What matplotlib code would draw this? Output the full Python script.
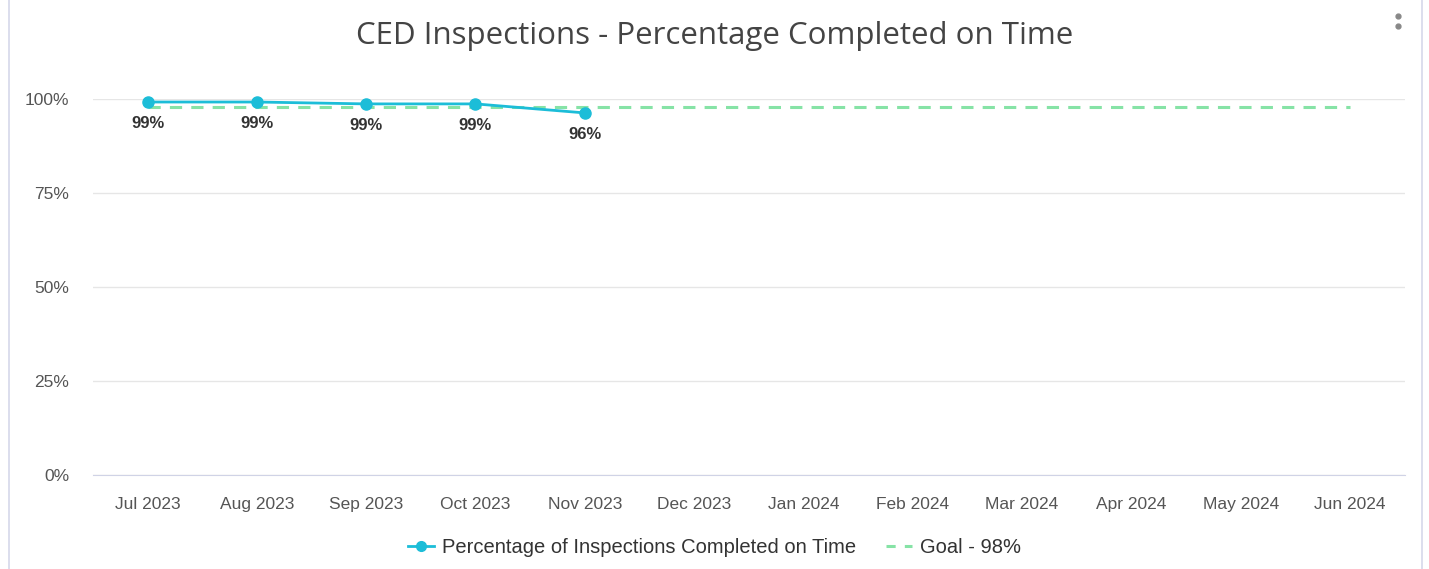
import matplotlib.pyplot as plt
from matplotlib.lines import Line2D

months = ['Jul 2023', 'Aug 2023', 'Sep 2023', 'Oct 2023', 'Nov 2023', 'Dec 2023',
          'Jan 2024', 'Feb 2024', 'Mar 2024', 'Apr 2024', 'May 2024', 'Jun 2024']
pct_on_time = [99.2, 99.2, 98.7, 98.7, 96.3]
pct_labels = ['99%', '99%', '99%', '99%', '96%']
goal = [98] * 12
yticks = [0, 25, 50, 75, 100]

line_col = '#1cbdd8'
goal_col = '#86e3a6'

fig = plt.figure(figsize=(14.29, 5.69), dpi=100)
ax = fig.add_axes([0.065, 0.165, 0.918, 0.661])

x = list(range(len(months)))
ax.plot(x, goal, color=goal_col, lw=2.2, ls=(0, (4, 3)), zorder=2)
ax.plot(x[:len(pct_on_time)], pct_on_time, color=line_col, lw=2, marker='o',
        ms=8, zorder=3, clip_on=False)
for i, (v, lab) in enumerate(zip(pct_on_time, pct_labels)):
    ax.annotate(lab, (i, v), xytext=(0, -15.5), textcoords='offset points',
                ha='center', va='center', fontsize=12, color='#333333',
                family='Liberation Sans', weight='bold')

ax.set_xlim(-0.5, 11.5)
ax.set_ylim(0, 100)
ax.set_xticks(x)
ax.set_xticklabels(months, family='Liberation Sans', fontsize=12.5, color='#555555')
ax.set_yticks(yticks)
ax.set_yticklabels([f'{t}%' for t in yticks], family='Liberation Sans',
                   fontsize=12.5, color='#555555')
ax.tick_params(length=0)
ax.tick_params(axis='y', pad=17)
ax.tick_params(axis='x', pad=15.5)
ax.grid(axis='y', color='#e6e6e6', lw=1)
for s in ['top', 'right', 'left']:
    ax.spines[s].set_visible(False)
ax.spines['bottom'].set_color('#d0d3e6')
ax.set_axisbelow(True)

fig.text(0.5, 0.936, 'CED Inspections - Percentage Completed on Time', ha='center',
         va='center', fontsize=22.5, color='#444444', family='Open Sans')

handles = [Line2D([], [], color=line_col, lw=2, marker='o', ms=7),
           Line2D([], [], color=goal_col, lw=2.2, ls=(0, (3, 3)))]
fig.legend(handles, ['Percentage of Inspections Completed on Time', 'Goal - 98%'],
           loc='center', bbox_to_anchor=(0.5, 0.037), ncol=2, frameon=False,
           prop={'family': 'Liberation Sans', 'size': 14.5}, handlelength=1.3,
           columnspacing=1.5, handletextpad=0.4, labelcolor='#333333')

# card borders and menu dots
fig.add_artist(Line2D([0.006, 0.006], [0, 1], color='#d6d8ea', lw=1.2))
fig.add_artist(Line2D([0.995, 0.995], [0, 1], color='#d6d8ea', lw=1.2))
fig.add_artist(Line2D([0.978, 0.978], [0.955, 0.972], color='#888888', lw=0,
                      marker='o', ms=3.5))

fig.savefig('out.png', dpi=100, facecolor='white')
